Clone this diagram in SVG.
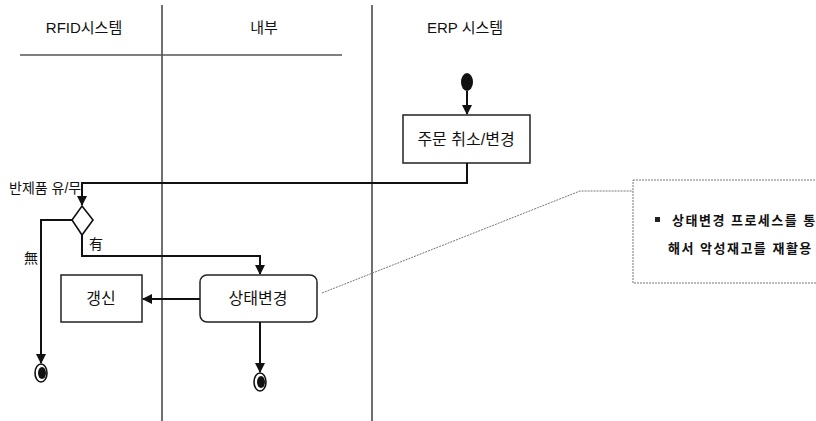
<svg xmlns="http://www.w3.org/2000/svg" width="816" height="421" viewBox="0 0 816 421">
<style>
text{font-family:"Liberation Sans","Noto Sans CJK KR",sans-serif;fill:#111;}
.hd{font-size:15px;text-anchor:middle;}
.lbl{font-size:16px;text-anchor:middle;}
.sm{font-size:14px;}
.nt{font-size:13px;font-weight:bold;letter-spacing:1.5px;}
.ln{fill:none;stroke:#111;stroke-width:2;}
.lane{stroke:#222;stroke-width:1.3;fill:none;}
.box{fill:#fff;stroke:#222;stroke-width:1.5;}
.note{fill:#fff;stroke:#777;stroke-width:1;stroke-dasharray:2 1;}
</style>
<defs>
<marker id="ah" markerWidth="10" markerHeight="10" refX="9" refY="5" orient="auto" markerUnits="userSpaceOnUse">
<path d="M0,0 L10,5 L0,10 z" fill="#111"/>
</marker>
</defs>
<rect width="816" height="421" fill="#fff"/>
<g id="lanes">
<line class="lane" x1="162" y1="5" x2="162" y2="421"/>
<line class="lane" x1="372" y1="5" x2="372" y2="421"/>
<line x1="20" y1="55" x2="342" y2="55" stroke="#555" stroke-width="1.6"/>
<text class="hd" x="84" y="33">RFID시스템</text>
<text class="hd" x="264" y="33">내부</text>
<text class="hd" x="465" y="33">ERP 시스템</text>
</g>
<g id="start"><ellipse cx="467" cy="82" rx="6" ry="9" fill="#111"/></g>
<g id="order"><rect class="box" x="403" y="115" width="127" height="48"/><text class="lbl" x="466" y="145">주문 취소/변경</text></g>
<g id="decision"><path d="M82,206 L93,220 L82,235 L72,220 Z" fill="#fff" stroke="#111" stroke-width="1.6"/></g>
<g id="state"><rect class="box" x="200" y="275" width="117" height="47" rx="7"/><text class="lbl" x="258" y="304">상태변경</text></g>
<g id="renew"><rect class="box" x="61" y="275" width="81" height="47"/><text class="lbl" x="101" y="304">갱신</text></g>
<g id="end1"><ellipse cx="41" cy="373" rx="6" ry="9" fill="#fff" stroke="#111" stroke-width="1.6"/><ellipse cx="42" cy="373" rx="4" ry="6" fill="#111"/></g>
<g id="end2"><ellipse cx="260" cy="382" rx="6" ry="9" fill="#fff" stroke="#111" stroke-width="1.6"/><ellipse cx="261" cy="382" rx="4" ry="6" fill="#111"/></g>
<g id="note">
<rect class="note" x="633" y="180" width="190" height="103"/>
<rect x="655" y="217" width="5" height="5" fill="#222"/>
<text class="nt" x="672" y="225">상태변경 프로세스를 통</text>
<text class="nt" x="668" y="253">해서 악성재고를 재활용</text>
</g>
<g id="connectors">
<line class="ln" x1="467" y1="91" x2="467" y2="114" marker-end="url(#ah)"/>
<polyline class="ln" points="467,163 467,183 82,183 82,205" marker-end="url(#ah)"/>
<polyline class="ln" points="72,220 41,220 41,363" marker-end="url(#ah)"/>
<polyline class="ln" points="82,235 82,256 260,256 260,274" marker-end="url(#ah)"/>
<line class="ln" x1="200" y1="299" x2="143" y2="299" marker-end="url(#ah)"/>
<line class="ln" x1="260" y1="322" x2="260" y2="372" marker-end="url(#ah)"/>
<polyline points="322,293 580,191 633,191" fill="none" stroke="#777" stroke-width="1" stroke-dasharray="2 1"/>
<text class="sm" x="9" y="193">반제품 유/무</text>
<text class="sm" x="89" y="249">有</text>
<text class="sm" x="24" y="263">無</text>
</g>
</svg>
